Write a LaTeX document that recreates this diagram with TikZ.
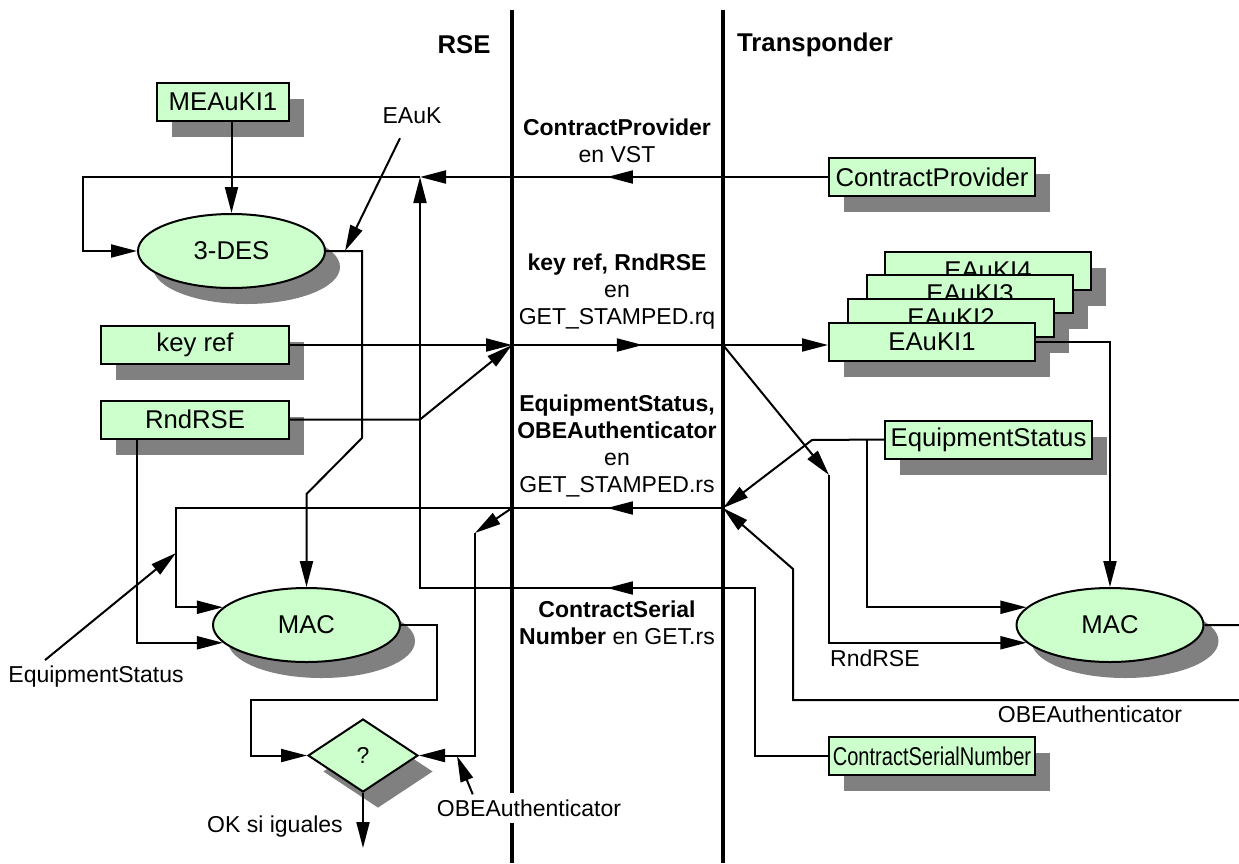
\documentclass[tikz,border=0pt]{standalone}
\usepackage{fontspec}
\usepackage{graphicx}
\setmainfont{Liberation Sans}
\usetikzlibrary{arrows.meta}
\usetikzlibrary{shapes.geometric}
\usetikzlibrary{shadows}
\usetikzlibrary{decorations.markings}
\usetikzlibrary{calc}
\definecolor{boxgreen}{HTML}{CCFFCC}
\definecolor{shadowgray}{HTML}{808080}
\newcommand{\BOXTXT}{\fontsize{25.7}{30}\selectfont}
\newcommand{\LBLTXT}{\fontsize{23}{27}\selectfont}
\tikzset{
  conn/.style={line width=2pt},
  lane/.style={line width=4pt},
  box/.style={draw, line width=2pt, fill=boxgreen, minimum height=38pt, inner sep=0pt, font=\BOXTXT,
    drop shadow={shadow xshift=15pt, shadow yshift=-16pt, fill=shadowgray, opacity=1}},
  oval/.style={box, ellipse, minimum width=187pt, minimum height=74pt},
  cmpbox/.style={box, diamond, minimum width=110pt, minimum height=73pt, aspect=1.5, font=\LBLTXT},
  lbl/.style={font=\LBLTXT, inner sep=1pt},
  msg/.style={font=\LBLTXT, align=center, inner sep=0pt},
  hdr/.style={font=\BOXTXT\bfseries, inner sep=0pt},
  midarrow/.style={postaction={decorate}, decoration={markings, mark=at position #1 with {\arrow{>}}}}
}

\begin{document}
\begin{tikzpicture}[x=1pt,y=-1pt,>={Triangle[length=26pt,width=13pt]}]
    \useasboundingbox (0,0) rectangle (1239,863);
    \clip (0,0) rectangle (1239,863);

    \coordinate (rseT) at (512,10);
    \coordinate (rseB) at (512,863);
    \coordinate (trpT) at (723,10);
    \coordinate (trpB) at (723,863);

    \coordinate (cpR) at (723,177);
    \coordinate (cpL) at (512,177);
    \coordinate (jCP) at (420,177);
    \coordinate (fbk) at (83,177);

    \coordinate (rqL) at (512,345);
    \coordinate (rqR) at (723,345);
    \coordinate (rndT) at (829,475);

    \coordinate (rsR) at (723,508);
    \coordinate (rsL) at (512,508);
    \coordinate (esK) at (812,440);
    \coordinate (esB) at (867,440);
    \coordinate (esL) at (176,508);
    \coordinate (esT) at (176,553);
    \coordinate (obeT) at (475,533);
    \coordinate (obeTip) at (457,756);

    \coordinate (snR) at (723,588);
    \coordinate (snL) at (512,588);
    \coordinate (snK) at (755,588);

    \coordinate (obeR1) at (1250,625);
    \coordinate (obeR2) at (1250,700);
    \coordinate (obeK) at (793,700);
    \coordinate (obeD) at (793,569);

    \coordinate (dk1) at (362,438);
    \coordinate (dk2) at (306.5,494);
    \coordinate (eaukT) at (345,251);
    \coordinate (mo1) at (437,700);
    \coordinate (mo2) at (251,700);
    \coordinate (okE) at (363,848);

    \draw[lane] (rseT) -- (rseB);
    \draw[lane] (trpT) -- (trpB);

    \node[hdr] (rse) at (464,45) {RSE};
    \node[hdr,anchor=west] (trp) at (737,45) {Transponder};

    \node[box,minimum width=132pt] (mea) at (223,102) {MEAuKI1};
    \node[box,minimum width=206pt] (cp) at (932,177) {ContractProvider};
    \node[box,minimum width=188pt] (kr) at (195,345) {key ref};
    \node[box,minimum width=188pt] (rnd) at (195,419.5) {RndRSE};
    \node[box,minimum width=206pt] (e4) at (988,270.5) {EAuKI4};
    \node[box,minimum width=206pt] (e3) at (970,294) {EAuKI3};
    \node[box,minimum width=206pt] (e2) at (951,318) {EAuKI2};
    \node[box,minimum width=206pt] (e1) at (932,341.5) {EAuKI1};
    \node[box,minimum width=207pt] (es) at (988.5,439.5) {EquipmentStatus};
    \node[box,minimum width=206pt] (csn) at (932,756) {\scalebox{0.78}[1]{ContractSerialNumber}};

    \node[oval] (des) at (231.5,251) {3-DES};
    \node[oval] (macL) at (306.5,625) {MAC};
    \node[oval] (macR) at (1110,625) {MAC};
    \node[cmpbox] (cmp) at (363,755.5) {?};

    \node[msg] (mCP) at (617,141) {\textbf{ContractProvider}\\en VST};
    \node[msg] (mRq) at (617,292) {\textbf{key ref, RndRSE}\\en\\GET\_STAMPED.rq};
    \node[msg] (mRs) at (617,446) {\textbf{EquipmentStatus,}\\\textbf{OBEAuthenticator}\\en\\GET\_STAMPED.rs};
    \node[msg] (mSN) at (617,623) {\textbf{ContractSerial}\\\textbf{Number} en GET.rs};

    \node[lbl] (eauk) at (412,116) {EAuK};
    \node[lbl] (esl) at (96,677) {EquipmentStatus};
    \node[lbl] (okl) at (275,827) {OK si iguales};
    \node[lbl,anchor=west] (rndl) at (829,658) {RndRSE};
    \node[lbl] (obeRl) at (1090,714) {OBEAuthenticator};
    \node[lbl,fill=white,inner xsep=2pt,inner ysep=7pt] (obel) at (529,808) {OBEAuthenticator};

    \draw[conn] (cp.west) -- (cpR);
    \draw[conn,midarrow=0.55] (cpR) -- (cpL);
    \draw[conn,->] (cpL) -- (jCP);
    \draw[conn,->] (jCP) -- (fbk) |- (des.west);
    \draw[conn,->] (mea.south -| des.north) -- (des.north);
    \draw[conn,->] ($(eauk.south)+(-12,13)$) -- (eaukT);
    \draw[conn,->] (des.east) -| (dk1) -- (dk2) -- (macL.north);

    \draw[conn,->] (kr.east) -- (rqL);
    \draw[conn,->] (rnd.east) -- (rnd.east -| jCP) -- (rqL);
    \draw[conn,midarrow=0.62] (rqL) -- (rqR);
    \draw[conn,->] (rqR) -- (rqR -| e1.west);
    \draw[conn,->] (rqR) -- (rndT);
    \draw[conn,->] (rndT) |- (macR.192);

    \draw[conn,->] (e1.east) -| (macR.north);
    \draw[conn,->] (es.west) -- (esK) -- (rsR);
    \draw[conn,->] (esB) |- (macR.168);
    \draw[conn,->] (macR.east) -- (obeR1) -- (obeR2) -- (obeK) -- (obeD) -- (rsR);

    \draw[conn,midarrow=0.55] (rsR) -- (rsL);
    \draw[conn,->] (rsL) -- (esL) |- (macL.168);
    \draw[conn,->] (rsL) -- (obeT);
    \draw[conn,->] (obeT) |- (cmp.east);
    \draw[conn,->] ([xshift=37pt]rnd.south west) |- (macL.192);
    \draw[conn,->] ($(esl.north)+(-51,-5)$) -- (esT);
    \draw[conn,->] ($(obel.north west)+(38,2)$) -- (obeTip);
    \draw[conn,->] (macL.east) -| (mo1) -- (mo2) |- (cmp.west);
    \draw[conn,->] (cmp.south) -- (okE);

    \draw[conn] (csn.west) -| (snK) -- (snR);
    \draw[conn,midarrow=0.55] (snR) -- (snL);
    \draw[conn,->] (snL) -- (snL -| jCP) -- (jCP);
\end{tikzpicture}
\end{document}
